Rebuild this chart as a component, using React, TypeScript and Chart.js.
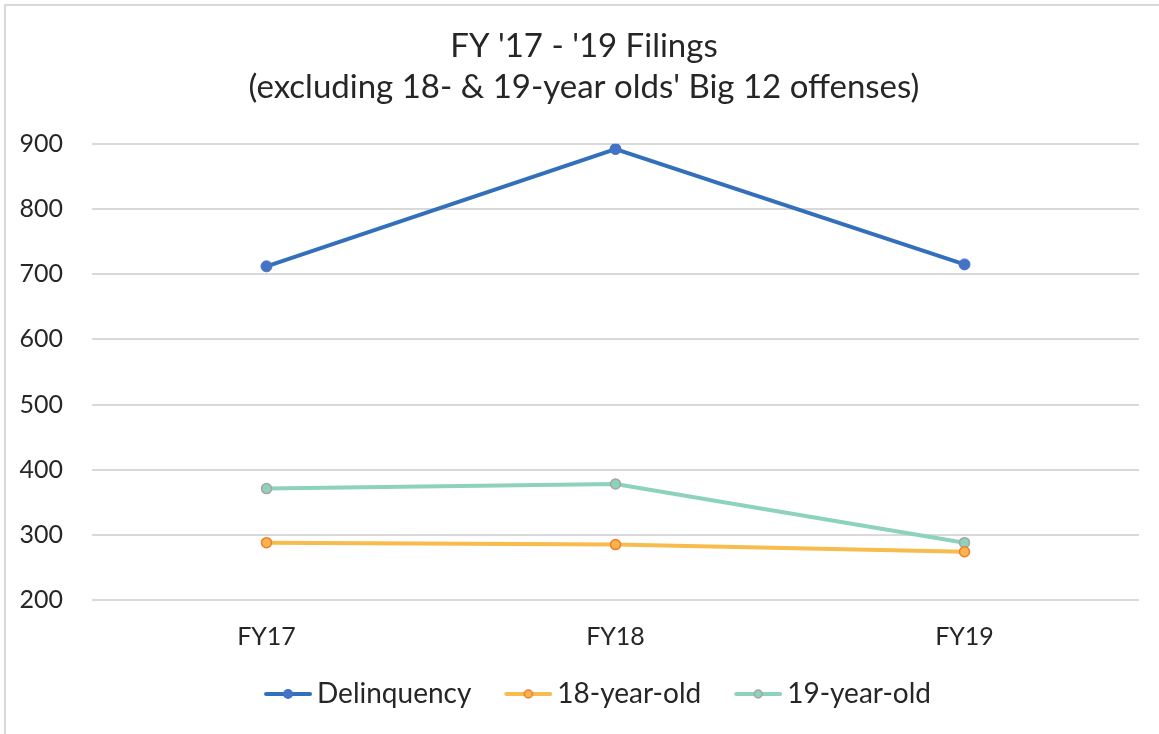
import React, { useEffect, useRef } from "react";
import { Chart, registerables } from "chart.js";

Chart.register(...registerables);

const categories = ["FY17", "FY18", "FY19"];
const delinquency = [712, 892, 715];
const age18 = [288, 285, 274];
const age19 = [371, 378, 288];
const yTicks = [200, 300, 400, 500, 600, 700, 800, 900];

const FONT = "Lato, 'Noto Sans', sans-serif";
const ICON_W = 66;
const EXTRA = 9;

function legendIcon(line: string, fill: string, stroke: string, r: number, bw: number) {
  const c = document.createElement("canvas");
  const W = ICON_W + EXTRA * 2;
  c.width = W;
  c.height = 14;
  const ctx = c.getContext("2d")!;
  const x1 = W - 2;
  const x0 = x1 - 44;
  ctx.strokeStyle = line;
  ctx.lineWidth = 4;
  ctx.lineCap = "round";
  ctx.beginPath();
  ctx.moveTo(x0, 7);
  ctx.lineTo(x1, 7);
  ctx.stroke();
  ctx.beginPath();
  ctx.arc((x0 + x1) / 2, 7, r, 0, Math.PI * 2);
  ctx.fillStyle = fill;
  ctx.fill();
  if (bw > 0) {
    ctx.lineWidth = bw;
    ctx.strokeStyle = stroke;
    ctx.stroke();
  }
  return c;
}

export default function App() {
  const ref = useRef<HTMLCanvasElement | null>(null);
  useEffect(() => {
    if (!ref.current) return;
    const icons = [
      legendIcon("#3370BB", "#4472C4", "#4472C4", 5, 0),
      legendIcon("#F8BB4E", "#F9B54A", "#ED7D31", 4, 1.5),
      legendIcon("#8DD3B9", "#8DD3B9", "#A5A5A5", 4, 1.5),
    ];
    const chart = new Chart(ref.current, {
      type: "line",
      data: {
        labels: categories,
        datasets: [
          {
            label: "Delinquency",
            data: delinquency,
            borderColor: "#3370BB",
            backgroundColor: "#4472C4",
            pointBackgroundColor: "#4472C4",
            pointBorderColor: "#4472C4",
            pointRadius: 5.5,
            pointBorderWidth: 1,
            borderWidth: 4,
          },
          {
            label: "18-year-old",
            data: age18,
            borderColor: "#F8BB4E",
            backgroundColor: "#F9B54A",
            pointBackgroundColor: "#F9B54A",
            pointBorderColor: "#ED7D31",
            pointRadius: 5,
            pointBorderWidth: 1.5,
            borderWidth: 4,
          },
          {
            label: "19-year-old",
            data: age19,
            borderColor: "#8DD3B9",
            backgroundColor: "#8DD3B9",
            pointBackgroundColor: "#8DD3B9",
            pointBorderColor: "#A5A5A5",
            pointRadius: 5,
            pointBorderWidth: 1.5,
            borderWidth: 4,
          },
        ].map((d: any) => ({ ...d, pointStyle: "circle", tension: 0 })),
      },
      options: {
        animation: false,
        responsive: false,
        maintainAspectRatio: false,
        layout: { padding: { top: 26, right: 20, bottom: 16, left: 29 } },
        plugins: {
          title: {
            display: true,
            text: ["FY '17 - '19 Filings", "(excluding 18- & 19-year olds' Big 12 offenses)"],
            color: "#262626",
            font: { family: FONT, size: 33, weight: "normal", lineHeight: 1.24 },
            padding: { top: 0, bottom: 36 },
          },
          legend: {
            position: "bottom",
            labels: {
              usePointStyle: true,
              pointStyleWidth: ICON_W,
              boxHeight: 14,
              padding: 6,
              color: "#262626",
              font: { family: FONT, size: 28 },
              generateLabels: (ch: any) =>
                ch.data.datasets.map((ds: any, i: number) => ({
                  text: ds.label,
                  pointStyle: icons[i],
                  fillStyle: ds.borderColor,
                  strokeStyle: ds.borderColor,
                  lineWidth: 0,
                  hidden: false,
                  datasetIndex: i,
                  fontColor: "#262626",
                })),
            },
          },
          tooltip: { enabled: false },
        },
        scales: {
          x: {
            offset: true,
            grid: { display: false },
            border: { display: false },
            afterFit: (s: any) => {
              s.height += 8;
            },
            ticks: { color: "#262626", font: { family: FONT, size: 25 }, padding: 14 },
          },
          y: {
            min: 200,
            max: 900,
            afterFit: (s: any) => {
              s.width = 63;
              s._computeLabelArea = () => undefined;
            },
            afterBuildTicks: (s: any) => {
              s.ticks = yTicks.map((v) => ({ value: v }));
            },
            grid: { color: "#D9D9D9", lineWidth: 2, drawTicks: false },
            border: { display: false },
            ticks: { color: "#262626", font: { family: FONT, size: 25 }, padding: 29 },
          },
        },
      },
    });
    return () => chart.destroy();
  }, []);
  return (
    <div style={{ position: "fixed", left: 0, top: 0, width: 1159, height: 734, background: "#fff" }}>
      <div
        style={{
          position: "absolute",
          left: 4,
          top: 4,
          width: 1200,
          height: 800,
          borderLeft: "2px solid #D9D9D9",
          borderTop: "2px solid #D9D9D9",
        }}
      />
      <canvas ref={ref} width={1159} height={734} style={{ position: "absolute", left: 0, top: 0 }} />
    </div>
  );
}
